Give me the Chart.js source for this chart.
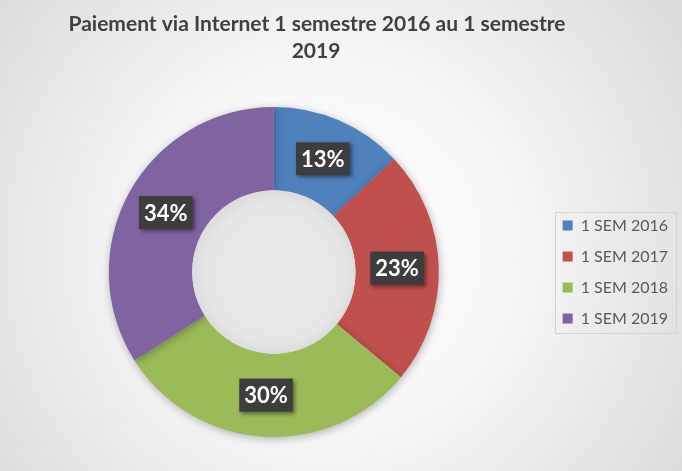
<!DOCTYPE html>
<html>
<head>
<meta charset="utf-8">
<script src="https://cdn.jsdelivr.net/npm/chart.js@4.4.1/dist/chart.umd.min.js"></script>
<style>
  html, body { margin: 0; padding: 0; }
  body { width: 682px; height: 471px; overflow: hidden; }
  #wrap { width: 682px; height: 471px; position: relative; }
</style>
</head>
<body>
<div id="wrap"><canvas id="c" width="682" height="471"></canvas></div>
<script>
const titleLines = ["Paiement via Internet 1 semestre 2016 au 1 semestre", "2019"];
const categories = ["1 SEM 2016", "1 SEM 2017", "1 SEM 2018", "1 SEM 2019"];
const values = [13, 23, 30, 34];
const colors = ["#4f81bd", "#c0504d", "#9bbb59", "#8064a2"];

const bgPlugin = {
  id: 'bg',
  beforeDraw(chart) {
    const ctx = chart.ctx, w = chart.width, h = chart.height;
    ctx.save();
    const g = ctx.createRadialGradient(330, 250, 20, 330, 250, 470);
    g.addColorStop(0, '#ffffff');
    g.addColorStop(0.35, '#f7f7f7');
    g.addColorStop(1, '#d6d6d6');
    ctx.fillStyle = g;
    ctx.fillRect(0, 0, w, h);
    ctx.restore();
  }
};

const titlePlugin = {
  id: 'customTitle',
  afterDraw(chart) {
    const ctx = chart.ctx;
    ctx.save();
    ctx.fillStyle = '#404040';
    ctx.font = 'bold 21px Lato';
    ctx.textAlign = 'center';
    ctx.textBaseline = 'middle';
    ctx.fillText(titleLines[0], 317, 24);
    ctx.fillText(titleLines[1], 316, 51);
    ctx.restore();
  }
};

const shadowPlugin = {
  id: 'shadow',
  beforeDatasetsDraw(chart) {
    const ctx = chart.ctx;
    ctx.save();
    ctx.shadowColor = 'rgba(0,0,0,0.28)';
    ctx.shadowBlur = 9;
    ctx.shadowOffsetX = 1;
    ctx.shadowOffsetY = 2;
  },
  afterDatasetsDraw(chart) {
    const ctx = chart.ctx;
    ctx.restore();
    const meta = chart.getDatasetMeta(0);
    const a = meta.data[0];
    const cx = a.x, cy = a.y, r = a.innerRadius;
    ctx.save();
    ctx.beginPath();
    ctx.arc(cx, cy, r, 0, Math.PI * 2);
    const g = ctx.createRadialGradient(cx + 8, cy + 10, 5, cx, cy, r);
    g.addColorStop(0, '#e8e8e8');
    g.addColorStop(0.85, '#e6e6e6');
    g.addColorStop(1, '#dcdcdc');
    ctx.fillStyle = g;
    ctx.fill();
    ctx.restore();
  }
};

const labelPlugin = {
  id: 'boxLabels',
  afterDatasetsDraw(chart) {
    const ctx = chart.ctx;
    const meta = chart.getDatasetMeta(0);
    const total = values.reduce((s, v) => s + v, 0);
    meta.data.forEach((arc, i) => {
      const p = arc.tooltipPosition();
      const txt = Math.round(values[i] / total * 100) + '%';
      ctx.save();
      ctx.font = 'bold 22px Lato';
      const tw = ctx.measureText(txt).width;
      const bw = tw + 10, bh = 33;
      ctx.shadowColor = 'rgba(0,0,0,0.45)';
      ctx.shadowBlur = 4;
      ctx.shadowOffsetX = 2;
      ctx.shadowOffsetY = 2;
      ctx.fillStyle = '#3d3d3d';
      ctx.fillRect(p.x - bw / 2, p.y - bh / 2, bw, bh);
      ctx.shadowColor = 'transparent';
      ctx.fillStyle = '#ffffff';
      ctx.textAlign = 'center';
      ctx.textBaseline = 'middle';
      ctx.fillText(txt, p.x, p.y + 1);
      ctx.restore();
    });
  }
};

const legendFrame = {
  id: 'legendFrame',
  afterDraw(chart) {
    const lg = chart.legend;
    if (!lg || !lg.legendHitBoxes || !lg.legendHitBoxes.length) return;
    const hb = lg.legendHitBoxes;
    let minX = Infinity, maxX = -Infinity, minY = Infinity, maxY = -Infinity;
    hb.forEach(b => {
      minX = Math.min(minX, b.left); maxX = Math.max(maxX, b.left + b.width);
      minY = Math.min(minY, b.top); maxY = Math.max(maxY, b.top + b.height);
    });
    const ctx = chart.ctx;
    ctx.save();
    ctx.strokeStyle = '#d4d4d4';
    ctx.lineWidth = 1;
    ctx.strokeRect(Math.round(minX - 8) + 0.5, Math.round(minY - 6) + 0.5,
                   Math.round(maxX - minX + 16), Math.round(maxY - minY + 12));
    ctx.restore();
  }
};

new Chart(document.getElementById('c'), {
  type: 'doughnut',
  data: {
    labels: categories,
    datasets: [{
      data: values,
      backgroundColor: colors,
      borderWidth: 0,
      hoverOffset: 0
    }]
  },
  options: {
    responsive: false,
    animation: false,
    radius: 165,
    cutout: '49.5%',
    layout: { padding: { top: 73, bottom: 0, left: -15, right: 4 } },
    plugins: {
      title: { display: false },
      tooltip: { enabled: false },
      legend: {
        position: 'right',
        align: 'center',
        labels: {
          boxWidth: 10,
          boxHeight: 10,
          padding: 15,
          color: '#595959',
          font: { family: 'Lato', size: 16 }
        }
      }
    }
  },
  plugins: [bgPlugin, shadowPlugin, labelPlugin, legendFrame, titlePlugin]
});
</script>
</body>
</html>
